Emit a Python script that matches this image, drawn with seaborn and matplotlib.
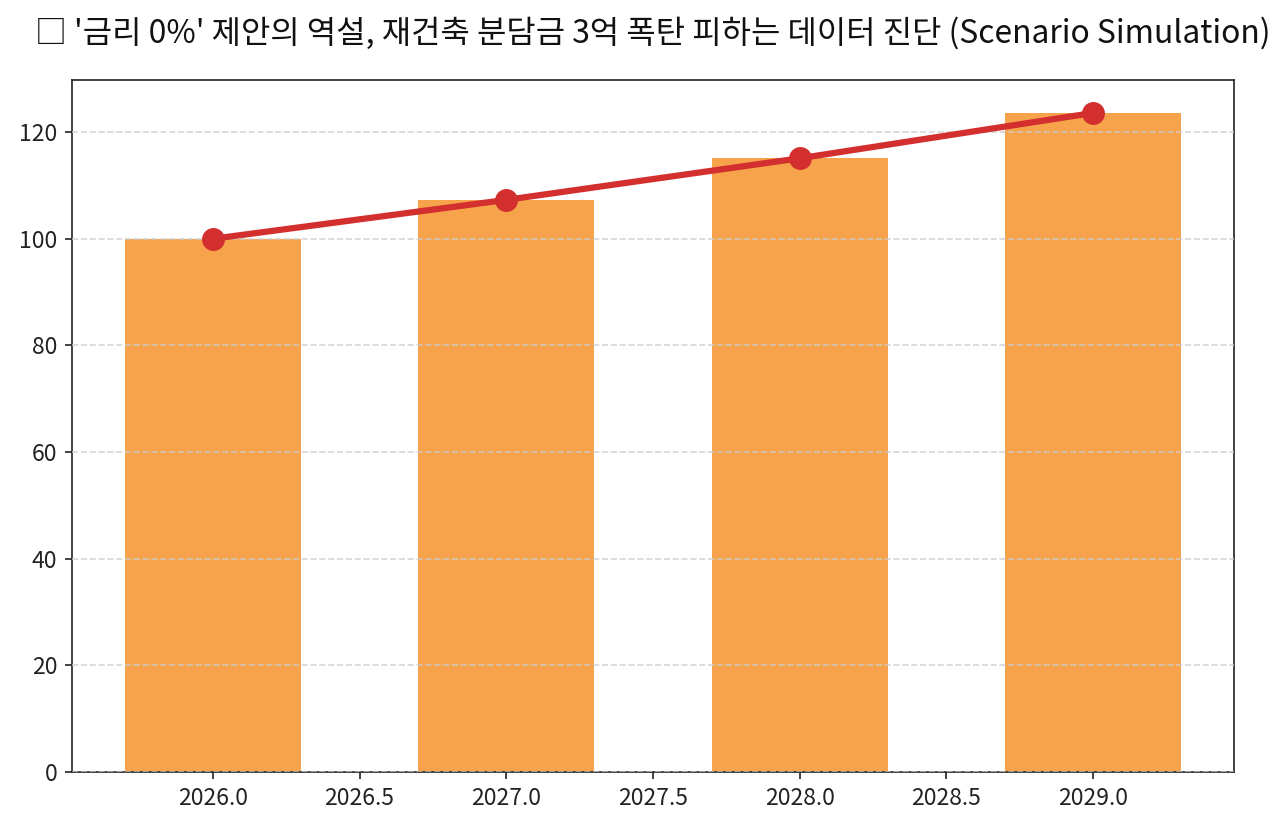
import matplotlib
matplotlib.use("Agg")
import matplotlib.pyplot as plt
import seaborn as sns
import pandas as pd

sns.set_style("ticks")
plt.rcParams['font.family'] = ['Noto Sans CJK KR', 'DejaVu Sans']
plt.rcParams['axes.unicode_minus'] = False

years = [2026, 2027, 2028, 2029]
values = [100.0, 107.3, 115.1, 123.6]
title = "□ '금리 0%' 제안의 역설, 재건축 분담금 3억 폭탄 피하는 데이터 진단 (Scenario Simulation)"

df = pd.DataFrame({"year": years, "value": values})

fig, ax = plt.subplots(figsize=(1282 / 150, 824 / 150), dpi=150)
sns.barplot(data=df, x="year", y="value", native_scale=True, width=0.6,
            color="#F57C00", alpha=0.7, saturation=1, linewidth=0, ax=ax, zorder=2)
sns.lineplot(data=df, x="year", y="value", color="#D32F2F", linewidth=3,
             marker="o", markersize=11, markeredgewidth=0, ax=ax, zorder=3)

ax.grid(axis="y", linestyle="--", color="#cccccc", alpha=0.8, zorder=1)
ax.set_axisbelow(False)
ax.set_xlabel("")
ax.set_ylabel("")
ax.set_title(title, fontsize=15.3, pad=18, color="#111111")
ax.tick_params(labelsize=11, colors="#222222")
for s in ax.spines.values():
    s.set_visible(True)
    s.set_color("#222222")

fig.subplots_adjust(left=72 / 1282, right=1234 / 1282, top=1 - 80 / 824, bottom=1 - 772 / 824)
fig.savefig("out.png", dpi=150)
